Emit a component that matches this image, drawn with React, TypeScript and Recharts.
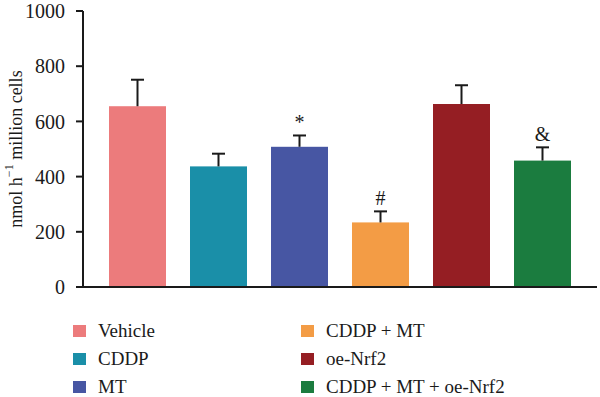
import { BarChart, Bar, XAxis, YAxis, Label } from 'recharts';

const categories = ['Vehicle', 'CDDP', 'MT', 'CDDP + MT', 'oe-Nrf2', 'CDDP + MT + oe-Nrf2'];
const means = [655, 437, 508, 234, 663, 458];
const errors = [96, 46, 41, 40, 68, 48];
const marks = ['', '', '*', '#', '', '&'];
const colors = ['#ec7b7c', '#1a8fa8', '#4756a3', '#f39c45', '#951e23', '#1b7c3f'];
const yTicks = [0, 200, 400, 600, 800, 1000];

const data = categories.map((name, i) => ({ name, value: means[i], err: errors[i], mark: marks[i] }));

const FONT = '"Liberation Serif", "Times New Roman", serif';
const INK = '#1a1a1a';

function BarWithError(props: any) {
  const { x, y, width, height, index, payload } = props;
  const pxPerUnit = height / payload.value;
  const topY = y - payload.err * pxPerUnit;
  const cx = x + width / 2;
  return (
    <g>
      <rect x={x} y={y} width={width} height={height} fill={colors[index]} />
      <line x1={cx} x2={cx} y1={y} y2={topY} stroke={INK} strokeWidth={2} />
      <line x1={cx - 6.5} x2={cx + 6.5} y1={topY} y2={topY} stroke={INK} strokeWidth={2} />
      {payload.mark && (
        <text x={cx} y={topY - 6} textAnchor="middle" fontFamily={FONT} fontSize={20} fill={INK}>
          {payload.mark}
        </text>
      )}
    </g>
  );
}

function YLabel({ viewBox }: any) {
  const cx = 16;
  const cy = viewBox.y + viewBox.height / 2;
  return (
    <text
      x={cx}
      y={cy}
      transform={`rotate(-90, ${cx}, ${cy})`}
      textAnchor="middle"
      dominantBaseline="central"
      fontFamily={FONT}
      fontSize={18}
      fill={INK}
    >
      <tspan>nmol h</tspan>
      <tspan dy={-7} fontSize={12}>−1</tspan>
      <tspan dy={7}> million cells</tspan>
    </text>
  );
}

function LegendBlock() {
  const col = (start: number, left: number) =>
    categories.slice(start, start + 3).map((c, k) => (
      <div
        key={c}
        style={{ position: 'absolute', left, top: 323 + k * 28, height: 16, display: 'flex', alignItems: 'center' }}
      >
        <span style={{ width: 13, height: 12, background: colors[start + k], display: 'inline-block' }} />
        <span style={{ marginLeft: 12, fontFamily: FONT, fontSize: 19, lineHeight: '16px', color: INK, whiteSpace: 'nowrap' }}>{c}</span>
      </div>
    ));
  return (
    <>
      {col(0, 73)}
      {col(3, 301)}
    </>
  );
}

export default function App() {
  return (
    <div style={{ position: 'absolute', left: 0, top: 0, width: 600, height: 397, background: '#fff' }}>
      <BarChart width={600} height={300} data={data} margin={{ top: 11, right: 3, bottom: 0, left: 0 }}>
        <XAxis
          dataKey="name"
          tick={false}
          height={13}
          tickSize={7}
          padding={{ left: 14, right: 14 }}
          stroke={INK}
          strokeWidth={2}
        />
        <YAxis
          domain={[0, 1000]}
          ticks={yTicks}
          width={83}
          tickSize={7}
          stroke={INK}
          strokeWidth={2}
          tick={{ fontFamily: FONT, fontSize: 20, fill: INK, dx: -9 }}
          interval={0}
        >
          <Label content={<YLabel />} />
        </YAxis>
        <Bar dataKey="value" barSize={57} shape={<BarWithError />} isAnimationActive={false} />
      </BarChart>
      <LegendBlock />
    </div>
  );
}
